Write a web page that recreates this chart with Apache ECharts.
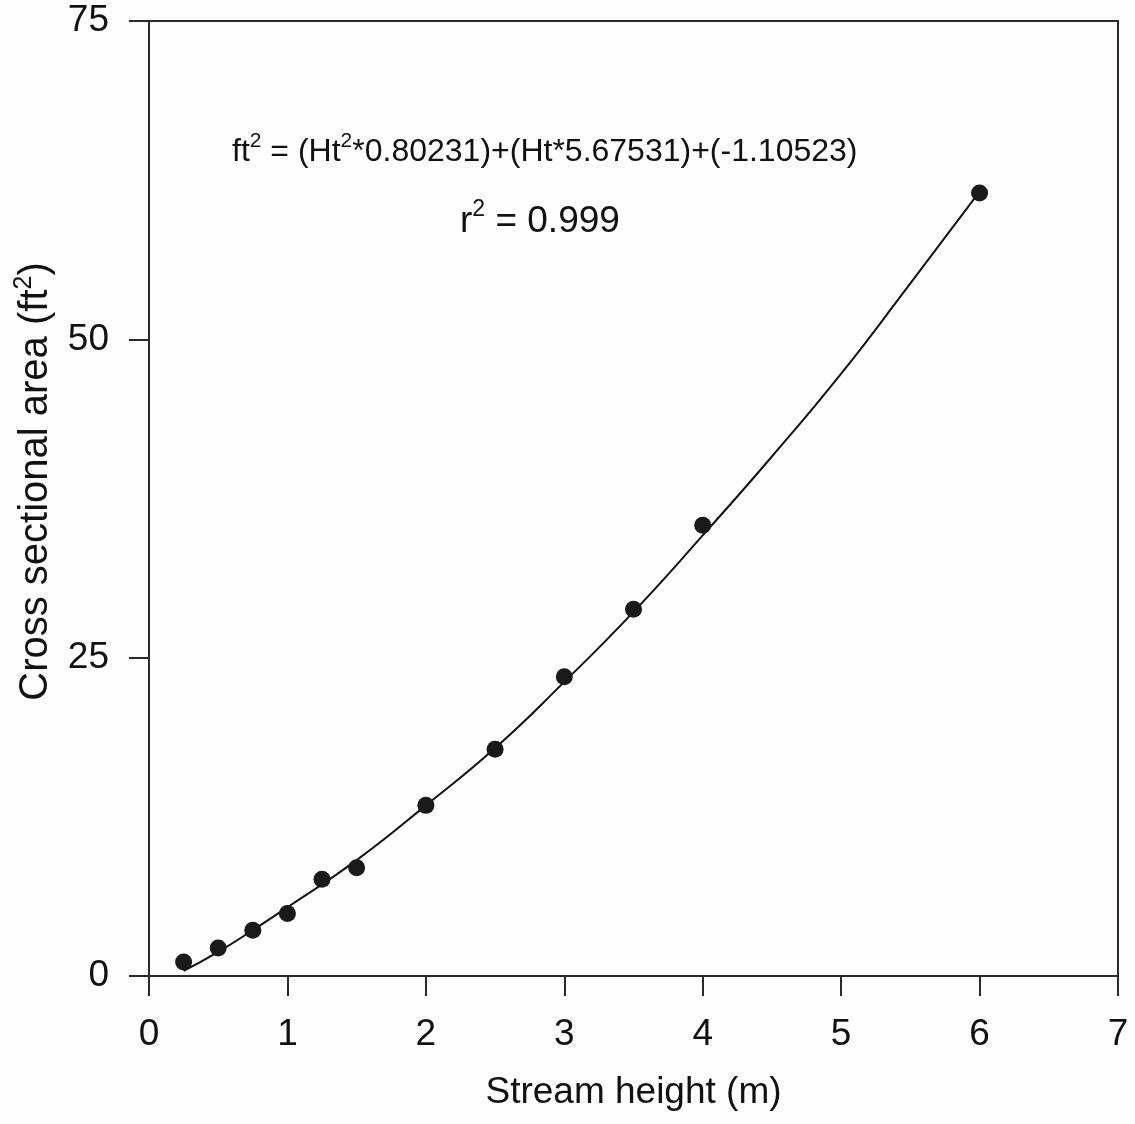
<!DOCTYPE html>
<html>
<head>
<meta charset="utf-8">
<script src="https://cdn.jsdelivr.net/npm/echarts@6/dist/echarts.min.js"></script>
<style>
html,body{margin:0;padding:0;background:#fdfdfd;}
#chart{width:1135px;height:1124px;}
</style>
</head>
<body>
<div id="chart"></div>
<script>
// Observed data points (stream height m, cross-sectional area ft²)
const heights = [0.25, 0.5, 0.75, 1, 1.25, 1.5, 2, 2.5, 3, 3.5, 4, 6];
const areas = [1.1, 2.2, 3.6, 4.9, 7.6, 8.5, 13.4, 17.8, 23.5, 28.8, 35.4, 61.5];
// Fitted curve
const curveX = [0.25, 0.5, 0.75, 1, 1.5, 2, 2.5, 3, 3.5, 4, 4.5, 5, 5.5, 6];
const curveY = [0.4, 1.9, 3.6, 5.4, 9.1, 13.4, 17.9, 23.1, 28.6, 34.6, 40.8, 47.3, 54.4, 61.6];
const xTicks = [0, 1, 2, 3, 4, 5, 6, 7];
const yTicks = [0, 25, 50, 75];
const equationText = '{b|ft}{s|2}{b| = (Ht}{s|2}{b|*0.80231)+(Ht*5.67531)+(-1.10523)}';
const r2Text = '{b|r}{s|2}{b| = 0.999}';
const xName = 'Stream height (m)';
const yName = '{b|Cross sectional area (ft}{s|2}{b|)}';

const font = 'Liberation Sans, Arial, Helvetica, sans-serif';
const axisColor = '#2a2a2a';

const chart = echarts.init(document.getElementById('chart'));
chart.setOption({
  backgroundColor: '#fdfdfd',
  animation: false,
  grid: {left: 149, right: 17, top: 21, bottom: 148, containLabel: false},
  xAxis: [{
    type: 'value', min: 0, max: 7, interval: 1,
    name: xName, nameLocation: 'middle', nameGap: 98,
    nameTextStyle: {fontFamily: font, fontSize: 37, color: '#111'},
    axisLine: {show: true, onZero: false, lineStyle: {color: axisColor, width: 2}},
    axisTick: {show: true, inside: false, length: 20, lineStyle: {color: axisColor, width: 2}},
    axisLabel: {margin: 40, fontFamily: font, fontSize: 37, color: '#111',
      formatter: v => xTicks.includes(v) ? String(v) : ''},
    splitLine: {show: false}
  }, {
    type: 'value', min: 0, max: 7, position: 'top',
    axisLine: {show: true, onZero: false, lineStyle: {color: axisColor, width: 2}},
    axisTick: {show: false}, axisLabel: {show: false}, splitLine: {show: false}
  }],
  yAxis: [{
    type: 'value', min: 0, max: 75, interval: 25,
    name: yName, nameLocation: 'middle', nameGap: 93,
    nameTextStyle: {
      fontFamily: font, fontSize: 40, color: '#111',
      padding: [0, 0, 0, 34],
      rich: {
        b: {fontFamily: font, fontSize: 40, color: '#111', lineHeight: 44, verticalAlign: 'bottom'},
        s: {fontFamily: font, fontSize: 25, color: '#111', lineHeight: 44, verticalAlign: 'top'}
      }
    },
    axisLine: {show: true, onZero: false, lineStyle: {color: axisColor, width: 2}},
    axisTick: {show: true, inside: false, length: 20, lineStyle: {color: axisColor, width: 2}},
    axisLabel: {margin: 40, fontFamily: font, fontSize: 37, color: '#111',
      formatter: v => yTicks.includes(v) ? String(v) : ''},
    splitLine: {show: false}
  }, {
    type: 'value', min: 0, max: 75, position: 'right',
    axisLine: {show: true, onZero: false, lineStyle: {color: axisColor, width: 2}},
    axisTick: {show: false}, axisLabel: {show: false}, splitLine: {show: false}
  }],
  series: [{
    type: 'line',
    data: curveX.map((x, i) => [x, curveY[i]]),
    smooth: true,
    showSymbol: false,
    lineStyle: {color: '#111', width: 2},
    z: 2
  }, {
    type: 'scatter',
    data: heights.map((x, i) => [x, areas[i]]),
    symbol: 'circle',
    symbolSize: 17,
    itemStyle: {color: '#1a1a1a', opacity: 1},
    z: 3
  }],
  graphic: [{
    type: 'text', left: 232, top: 131,
    style: {
      text: equationText,
      rich: {
        b: {fontFamily: font, fontSize: 32, fill: '#111', lineHeight: 37, verticalAlign: 'bottom'},
        s: {fontFamily: font, fontSize: 21, fill: '#111', lineHeight: 37, verticalAlign: 'top'}
      }
    }
  }, {
    type: 'text', left: 460, top: 198,
    style: {
      text: r2Text,
      rich: {
        b: {fontFamily: font, fontSize: 37, fill: '#111', lineHeight: 42, verticalAlign: 'bottom'},
        s: {fontFamily: font, fontSize: 23, fill: '#111', lineHeight: 42, verticalAlign: 'top'}
      }
    }
  }]
});
</script>
</body>
</html>
